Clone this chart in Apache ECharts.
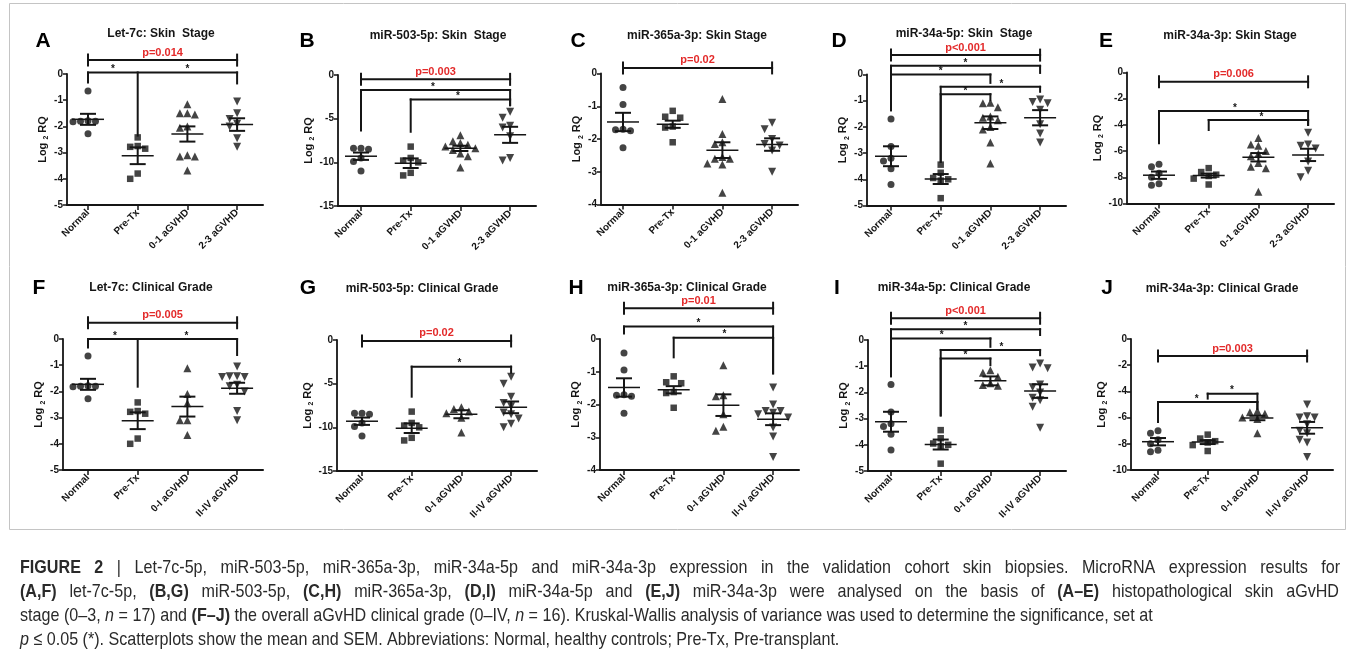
<!DOCTYPE html>
<html>
<head>
<meta charset="utf-8">
<title>Figure 2 - miRNA expression in skin biopsies</title>
<script src="https://cdn.jsdelivr.net/npm/echarts@6/dist/echarts.min.js"></script>
<style>
html, body { margin: 0; padding: 0; background: #fff; }
#chart { width: 1355px; height: 666px; }
</style>
</head>
<body>
<div id="chart"></div>
<script>
// group names on the x axes
const skinGroups = ['Normal', 'Pre-Tx', '0-1 aGVHD', '2-3 aGVHD'];
const gradeGroups = ['Normal', 'Pre-Tx', '0-I aGVHD', 'II-IV aGVHD'];

// y axis [min, max, step] per microRNA
const let7cAxis = [-5, 0, 1];
const miR503Axis = [-15, 0, 5];
const miR365Axis = [-4, 0, 1];
const miR34a5pAxis = [-5, 0, 1];
const miR34a3pAxis = [-10, 0, 2];

// log2 RQ per sample
const let7cNormal = [-0.65, -1.78, -1.8, -1.82, -1.8, -2.28];
const let7cPreTx = [-2.42, -2.75, -2.78, -2.85, -3.8, -4.0];
const let7cSkin01 = [-1.15, -1.5, -1.55, -1.5, -2.0, -2.05, -3.15, -3.1, -3.15, -3.68];
const let7cSkin23 = [-1.05, -1.5, -1.72, -1.9, -2.0, -2.45, -2.78];
const let7cGrade0I = [-1.12, -2.1, -2.45, -3.1, -3.1, -3.66];
const let7cGradeIIIV = [-1.05, -1.42, -1.45, -1.45, -1.42, -1.75, -1.8, -2.0, -2.75, -3.1];

const miR503Normal = [-8.4, -8.5, -8.4, -9.5, -9.9, -11.0];
const miR503PreTx = [-8.2, -9.5, -9.8, -10.0, -11.2, -11.5];
const miR503Skin01 = [-6.9, -7.6, -7.8, -8.0, -8.2, -8.4, -8.6, -9.0, -9.3, -10.6];
const miR503Skin23 = [-4.2, -4.9, -5.8, -6.0, -7.0, -9.5, -9.8];
const miR503Grade0I = [-7.7, -7.9, -8.2, -8.4, -8.9, -10.6];
const miR503GradeIIIV = [-4.2, -5.0, -6.5, -7.2, -7.6, -8.3, -8.5, -9.0, -9.6, -10.0];

const miR365Normal = [-0.43, -0.95, -1.72, -1.75, -1.7, -2.27];
const miR365PreTx = [-1.14, -1.35, -1.32, -1.62, -1.65, -2.1];
const miR365Skin01 = [-0.78, -1.85, -2.1, -2.15, -2.55, -2.6, -2.6, -2.75, -2.78, -3.64];
const miR365Skin23 = [-1.5, -1.7, -2.0, -2.15, -2.2, -2.35, -3.0];
const miR365Grade0I = [-0.8, -1.72, -1.75, -2.3, -2.68, -2.8];
const miR365GradeIIIV = [-1.48, -2.0, -2.2, -2.25, -2.2, -2.3, -2.4, -2.7, -2.98, -3.6];

const miR34a5pNormal = [-1.7, -2.75, -3.3, -3.2, -3.6, -4.2];
const miR34a5pPreTx = [-3.44, -3.75, -3.95, -4.05, -4.0, -4.72];
const miR34a5pSkin01 = [-1.08, -1.25, -1.1, -1.6, -1.65, -1.75, -2.0, -2.1, -2.6, -3.4];
const miR34a5pSkin23 = [-0.95, -1.05, -1.1, -1.35, -1.9, -2.25, -2.6];
const miR34a5pGrade0I = [-1.15, -1.25, -1.4, -1.65, -1.72, -1.75];
const miR34a5pGradeIIIV = [-0.9, -1.05, -1.08, -1.7, -1.8, -2.0, -2.2, -2.3, -2.55, -3.35];

const miR34a3pNormal = [-7.0, -7.2, -7.7, -8.0, -8.5, -8.6];
const miR34a3pPreTx = [-7.3, -7.6, -7.8, -7.9, -8.1, -8.55];
const miR34a3pSkin01 = [-5.0, -5.5, -5.6, -6.0, -6.2, -6.4, -6.9, -7.2, -7.3, -9.1];
const miR34a3pSkin23 = [-4.6, -5.5, -5.6, -5.8, -6.8, -7.5, -8.0];
const miR34a3pGrade0I = [-5.5, -5.6, -5.7, -6.0, -6.1, -7.2];
const miR34a3pGradeIIIV = [-5.0, -5.9, -6.0, -6.0, -6.5, -7.0, -7.2, -7.7, -7.9, -9.0];

// mean and SEM per group, as drawn
const let7cSkinMean = [-1.73, -3.12, -2.29, -1.93];
const let7cSkinSem = [0.21, 0.32, 0.29, 0.24];
const let7cGradeMean = [-1.73, -3.12, -2.58, -1.88];
const let7cGradeSem = [0.21, 0.32, 0.38, 0.21];
const miR503SkinMean = [-9.3, -10.1, -8.4, -6.85];
const miR503SkinSem = [0.42, 0.55, 0.3, 0.92];
const miR503GradeMean = [-9.3, -10.1, -8.5, -7.71];
const miR503GradeSem = [0.42, 0.55, 0.46, 0.67];
const miR365SkinMean = [-1.48, -1.55, -2.34, -2.17];
const miR365SkinSem = [0.28, 0.11, 0.24, 0.19];
const miR365GradeMean = [-1.48, -1.55, -2.02, -2.45];
const miR365GradeSem = [0.28, 0.11, 0.33, 0.18];
const miR34a5pSkinMean = [-3.12, -3.99, -1.84, -1.65];
const miR34a5pSkinSem = [0.38, 0.19, 0.24, 0.29];
const miR34a5pGradeMean = [-3.12, -3.99, -1.56, -1.95];
const miR34a5pGradeSem = [0.38, 0.19, 0.17, 0.26];
const miR34a3pSkinMean = [-7.84, -7.87, -6.47, -6.29];
const miR34a3pSkinSem = [0.28, 0.15, 0.32, 0.47];
const miR34a3pGradeMean = [-7.84, -7.87, -6.03, -6.78];
const miR34a3pGradeSem = [0.28, 0.15, 0.17, 0.45];

// Kruskal-Wallis p value: [label, bar level]
const let7cSkinP = ['p=0.014', 0.53];
const let7cGradeP = ['p=0.005', 0.62];
const miR503SkinP = ['p=0.003', -0.5];
const miR503GradeP = ['p=0.02', -0.11];
const miR365SkinP = ['p=0.02', 0.17];
const miR365GradeP = ['p=0.01', 0.94];
const miR34a5pSkinP = ['p<0.001', 0.74];
const miR34a5pGradeP = ['p<0.001', 0.83];
const miR34a3pSkinP = ['p=0.006', -0.71];
const miR34a3pGradeP = ['p=0.003', -1.3];

// pairwise brackets: [level, [group, drop to], ...]
const let7cSkinLinks = [[0.06, [0, -0.32], [1, -2.35], [3, -0.36]]];
const let7cGradeLinks = [[0, [0, -0.32], [1, -1.82], [3, -0.61]]];
const miR503SkinLinks = [[-1.73, [0, -6.35], [3, -3.46]], [-2.8, [1, -6.5], [3, -3.46]]];
const miR503GradeLinks = [[-3.05, [1, -6.49], [3, -3.74]]];
const miR365SkinLinks = [];
const miR365GradeLinks = [[0.38, [0, 0.17], [3, -1.05]], [0.04, [1, -0.56], [3, -1.05]]];
const miR34a5pSkinLinks = [[0.33, [0, -1.36], [3, 0.06]], [0, [0, -1.36], [2, -0.32]],
  [-0.47, [1, -3.33], [3, -0.66]], [-0.75, [1, -3.33], [2, -0.98]]];
const miR34a5pGradeLinks = [[0.41, [0, -1.38], [3, 0.19]], [0.06, [0, -1.38], [2, -0.26]],
  [-0.38, [1, -2.88], [3, -0.58]], [-0.71, [1, -2.88], [2, -0.96]]];
const miR34a3pSkinLinks = [[-2.94, [0, -5.4], [3, -4.0]], [-3.63, [1, -4.39], [3, -4.0]]];
const miR34a3pGradeLinks = [[-4.81, [0, -6.34], [2, -5.32]], [-4.17, [1, -4.55], [2, -5.32]]];

// significance stars: [x, bracket level]
const let7cSkinStars = [[0.5, 0.06], [2, 0.06]];
const let7cGradeStars = [[0.54, 0], [1.98, 0]];
const miR503SkinStars = [[1.45, -1.73], [1.95, -2.8]];
const miR503GradeStars = [[1.96, -3.05]];
const miR365SkinStars = [];
const miR365GradeStars = [[1.5, 0.38], [2.02, 0.04]];
const miR34a5pSkinStars = [[1.5, 0.33], [1.0, 0], [2.22, -0.47], [1.5, -0.75]];
const miR34a5pGradeStars = [[1.5, 0.41], [1.02, 0.06], [2.22, -0.38], [1.5, -0.71]];
const miR34a3pSkinStars = [[1.53, -2.94], [2.06, -3.63]];
const miR34a3pGradeStars = [[0.78, -4.81], [1.49, -4.17]];

const FONT = "'Liberation Sans', Arial, Helvetica, sans-serif";
const INK = '#151515';
const RED = '#e32a2a';
const CAT_STEP = 49.7;
const RIGHT_PAD = 26;
const PLOT_H = 131;

const panels = [
  {letter: 'A', title: 'Let-7c: Skin  Stage', groups: skinGroups, axis: let7cAxis,
    samples: [let7cNormal, let7cPreTx, let7cSkin01, let7cSkin23], mean: let7cSkinMean, sem: let7cSkinSem,
    p: let7cSkinP, links: let7cSkinLinks, stars: let7cSkinStars,
    left: 67, cat0: 88, top: 74, tx: 161, ty: 34, lx: 43, ly: 41, gap: 17},
  {letter: 'B', title: 'miR-503-5p: Skin  Stage', groups: skinGroups, axis: miR503Axis,
    samples: [miR503Normal, miR503PreTx, miR503Skin01, miR503Skin23], mean: miR503SkinMean, sem: miR503SkinSem,
    p: miR503SkinP, links: miR503SkinLinks, stars: miR503SkinStars,
    left: 338, cat0: 361, top: 75, tx: 438, ty: 36, lx: 307, ly: 41, gap: 22},
  {letter: 'C', title: 'miR-365a-3p: Skin Stage', groups: skinGroups, axis: miR365Axis,
    samples: [miR365Normal, miR365PreTx, miR365Skin01, miR365Skin23], mean: miR365SkinMean, sem: miR365SkinSem,
    p: miR365SkinP, links: miR365SkinLinks, stars: miR365SkinStars,
    left: 601, cat0: 623, top: 73.5, tx: 697, ty: 36, lx: 578, ly: 41, gap: 15},
  {letter: 'D', title: 'miR-34a-5p: Skin  Stage', groups: skinGroups, axis: miR34a5pAxis,
    samples: [miR34a5pNormal, miR34a5pPreTx, miR34a5pSkin01, miR34a5pSkin23], mean: miR34a5pSkinMean, sem: miR34a5pSkinSem,
    p: miR34a5pSkinP, links: miR34a5pSkinLinks, stars: miR34a5pSkinStars,
    left: 867, cat0: 891, top: 74.5, tx: 964, ty: 34, lx: 839, ly: 41, gap: 15},
  {letter: 'E', title: 'miR-34a-3p: Skin Stage', groups: skinGroups, axis: miR34a3pAxis,
    samples: [miR34a3pNormal, miR34a3pPreTx, miR34a3pSkin01, miR34a3pSkin23], mean: miR34a3pSkinMean, sem: miR34a3pSkinSem,
    p: miR34a3pSkinP, links: miR34a3pSkinLinks, stars: miR34a3pSkinStars,
    left: 1127, cat0: 1159, top: 72.5, tx: 1230, ty: 36, lx: 1106, ly: 41, gap: 15},
  {letter: 'F', title: 'Let-7c: Clinical Grade', groups: gradeGroups, axis: let7cAxis,
    samples: [let7cNormal, let7cPreTx, let7cGrade0I, let7cGradeIIIV], mean: let7cGradeMean, sem: let7cGradeSem,
    p: let7cGradeP, links: let7cGradeLinks, stars: let7cGradeStars,
    left: 63, cat0: 88, top: 339, tx: 151, ty: 288, lx: 39, ly: 288, gap: 15},
  {letter: 'G', title: 'miR-503-5p: Clinical Grade', groups: gradeGroups, axis: miR503Axis,
    samples: [miR503Normal, miR503PreTx, miR503Grade0I, miR503GradeIIIV], mean: miR503GradeMean, sem: miR503GradeSem,
    p: miR503GradeP, links: miR503GradeLinks, stars: miR503GradeStars,
    left: 337, cat0: 362, top: 340, tx: 422, ty: 289, lx: 308, ly: 288, gap: 17},
  {letter: 'H', title: 'miR-365a-3p: Clinical Grade', groups: gradeGroups, axis: miR365Axis,
    samples: [miR365Normal, miR365PreTx, miR365Grade0I, miR365GradeIIIV], mean: miR365GradeMean, sem: miR365GradeSem,
    p: miR365GradeP, links: miR365GradeLinks, stars: miR365GradeStars,
    left: 600, cat0: 624, top: 339, tx: 687, ty: 288, lx: 576, ly: 288, gap: 13},
  {letter: 'I', title: 'miR-34a-5p: Clinical Grade', groups: gradeGroups, axis: miR34a5pAxis,
    samples: [miR34a5pNormal, miR34a5pPreTx, miR34a5pGrade0I, miR34a5pGradeIIIV], mean: miR34a5pGradeMean, sem: miR34a5pGradeSem,
    p: miR34a5pGradeP, links: miR34a5pGradeLinks, stars: miR34a5pGradeStars,
    left: 868, cat0: 891, top: 340, tx: 954, ty: 288, lx: 837, ly: 288, gap: 14},
  {letter: 'J', title: 'miR-34a-3p: Clinical Grade', groups: gradeGroups, axis: miR34a3pAxis,
    samples: [miR34a3pNormal, miR34a3pPreTx, miR34a3pGrade0I, miR34a3pGradeIIIV], mean: miR34a3pGradeMean, sem: miR34a3pGradeSem,
    p: miR34a3pGradeP, links: miR34a3pGradeLinks, stars: miR34a3pGradeStars,
    left: 1131, cat0: 1158, top: 339, tx: 1222, ty: 289, lx: 1107, ly: 288, gap: 15}
];

const symbols = ['circle', 'rect', 'triangle', 'triangle'];
const symbolSizes = [7, 6.5, 8, 8];
const symbolRotates = [0, 0, 0, 180];

// spread points with close values sideways, like a column scatter
function swarm(values, gi, pxPerY) {
  const step = 7.5;
  const placed = [];
  const order = values.map((v, i) => i).sort((a, b) => values[b] - values[a]);
  const out = [];
  order.forEach(i => {
    const py = values[i] * pxPerY;
    for (let k = 0; k < 20; k++) {
      const off = k === 0 ? 0 : (k % 2 ? -1 : 1) * Math.ceil(k / 2) * step;
      const hit = placed.some(p => (p[0] - off) ** 2 + (p[1] - py) ** 2 < (step - 0.5) ** 2);
      if (!hit) {
        placed.push([off, py]);
        out.push([gi + off / CAT_STEP, values[i]]);
        break;
      }
    }
  });
  return out;
}

function meanSemItem(params, api) {
  const x = api.value(0), m = api.value(1), s = api.value(2);
  const c = api.coord([x, m]), t = api.coord([x, m + s]), b = api.coord([x, m - s]);
  const st = w => ({stroke: INK, lineWidth: w});
  return {type: 'group', children: [
    {type: 'line', shape: {x1: c[0] - 16, y1: c[1], x2: c[0] + 16, y2: c[1]}, style: st(1.5)},
    {type: 'line', shape: {x1: t[0], y1: t[1], x2: b[0], y2: b[1]}, style: st(2)},
    {type: 'line', shape: {x1: t[0] - 8, y1: t[1], x2: t[0] + 8, y2: t[1]}, style: st(2)},
    {type: 'line', shape: {x1: b[0] - 8, y1: b[1], x2: b[0] + 8, y2: b[1]}, style: st(2)}
  ]};
}

function annotate(panel) {
  return function (params, api) {
    const kids = [];
    const seg = (a, b) => kids.push({type: 'line', shape: {x1: a[0], y1: a[1], x2: b[0], y2: b[1]},
      style: {stroke: INK, lineWidth: 2, lineCap: 'square'}});
    const l = api.coord([0, panel.p[1]]), r = api.coord([3, panel.p[1]]);
    seg(l, r);
    seg([l[0], l[1] - 5.5], [l[0], l[1] + 5.5]);
    seg([r[0], r[1] - 5.5], [r[0], r[1] + 5.5]);
    kids.push({type: 'text', x: (l[0] + r[0]) / 2, y: l[1] - 2,
      style: {text: panel.p[0], fill: RED, font: 'bold 11px ' + FONT, align: 'center', verticalAlign: 'bottom'}});
    panel.links.forEach(link => {
      const y = link[0], ends = link.slice(1), xs = ends.map(e => e[0]);
      seg(api.coord([Math.min(...xs), y]), api.coord([Math.max(...xs), y]));
      ends.forEach(e => seg(api.coord([e[0], y]), api.coord([e[0], e[1]])));
    });
    panel.stars.forEach(s => {
      const p = api.coord(s);
      kids.push({type: 'text', x: p[0], y: p[1] - 3,
        style: {text: '*', fill: INK, font: 'bold 10px ' + FONT, align: 'center', verticalAlign: 'middle'}});
    });
    return {type: 'group', children: kids};
  };
}

const grids = [], xAxes = [], yAxes = [], series = [], graphics = [];

panels.forEach((p, i) => {
  const [ymin, ymax, ystep] = p.axis;
  const xmin = -(p.cat0 - p.left) / CAT_STEP;
  const xmax = 3 + RIGHT_PAD / CAT_STEP;
  grids.push({left: p.left, top: p.top, width: (xmax - xmin) * CAT_STEP, height: PLOT_H});
  xAxes.push({
    gridIndex: i, type: 'value', min: xmin, max: xmax,
    axisLine: {onZero: false, lineStyle: {color: INK, width: 1.8}},
    splitLine: {show: false},
    axisTick: {customValues: [0, 1, 2, 3], length: 5, lineStyle: {color: INK, width: 1.5}},
    axisLabel: {customValues: [0, 1, 2, 3], formatter: v => p.groups[Math.round(v)] || '',
      rotate: 45, margin: 6, color: INK, fontSize: 10, fontWeight: 'bold', fontFamily: FONT}
  });
  yAxes.push({
    gridIndex: i, type: 'value', min: ymin, max: ymax, interval: ystep,
    axisLine: {show: true, onZero: false, lineStyle: {color: INK, width: 1.8}},
    axisTick: {show: true, length: 4, lineStyle: {color: INK, width: 1.5}},
    splitLine: {show: false},
    axisLabel: {margin: 4, color: INK, fontSize: 10, fontWeight: 'bold', fontFamily: FONT},
    name: '{b|Log }{s|2}{b| RQ}', nameLocation: 'middle', nameGap: p.gap,
    nameTextStyle: {color: INK, rich: {
      b: {fontSize: 11, fontWeight: 'bold', fontFamily: FONT, color: INK, lineHeight: 14},
      s: {fontSize: 7, fontWeight: 'bold', fontFamily: FONT, color: INK, verticalAlign: 'bottom', lineHeight: 14}
    }}
  });
  const pxPerY = PLOT_H / (ymax - ymin);
  p.samples.forEach((vals, gi) => {
    series.push({
      type: 'scatter', xAxisIndex: i, yAxisIndex: i,
      symbol: symbols[gi], symbolSize: symbolSizes[gi], symbolRotate: symbolRotates[gi],
      itemStyle: {color: INK}, clip: false,
      data: swarm(vals, gi, pxPerY)
    });
  });
  series.push({
    type: 'custom', xAxisIndex: i, yAxisIndex: i, clip: false, z: 3,
    renderItem: meanSemItem,
    data: p.mean.map((m, gi) => [gi, m, p.sem[gi]])
  });
  series.push({
    type: 'custom', xAxisIndex: i, yAxisIndex: i, clip: false, z: 3,
    renderItem: annotate(p), data: [[0, ymax]]
  });
  graphics.push({type: 'text', x: p.tx, y: p.ty,
    style: {text: p.title, fill: INK, font: 'bold 12px ' + FONT, align: 'center', verticalAlign: 'middle'}});
  graphics.push({type: 'text', x: p.lx, y: p.ly,
    style: {text: p.letter, fill: '#000', font: 'bold 21px ' + FONT, align: 'center', verticalAlign: 'middle'}});
});

// figure caption: condensed text, first two lines justified
const CAP_FONT = "'Liberation Sans Narrow', 'Liberation Sans', Arial, sans-serif";
const CAP_SIZE = 19;
const CAP_INK = '#2a2a2a';
const captionLines = [
  [['b', 'FIGURE 2'], ['n', ' | Let-7c-5p, miR-503-5p, miR-365a-3p, miR-34a-5p and miR-34a-3p expression in the validation cohort skin biopsies. MicroRNA expression results for']],
  [['b', '(A,F)'], ['n', ' let-7c-5p, '], ['b', '(B,G)'], ['n', ' miR-503-5p, '], ['b', '(C,H)'], ['n', ' miR-365a-3p, '],
    ['b', '(D,I)'], ['n', ' miR-34a-5p and '], ['b', '(E,J)'], ['n', ' miR-34a-3p were analysed on the basis of '],
    ['b', '(A\u2013E)'], ['n', ' histopathological skin aGvHD']],
  [['n', 'stage (0\u20133, '], ['i', 'n'], ['n', ' = 17) and '], ['b', '(F\u2013J)'], ['n', ' the overall aGvHD clinical grade (0\u2013IV, '],
    ['i', 'n'], ['n', ' = 16). Kruskal-Wallis analysis of variance was used to determine the significance, set at']],
  [['i', 'p'], ['n', ' \u2264 0.05 (*). Scatterplots show the mean and SEM. Abbreviations: Normal, healthy controls; Pre-Tx, Pre-transplant.']]
];
const justifyWidths = [1320, 1319, null, null];
const capStyle = {
  n: {fontSize: CAP_SIZE, fontFamily: CAP_FONT, fill: CAP_INK},
  b: {fontSize: CAP_SIZE, fontFamily: CAP_FONT, fontWeight: 'bold', fill: CAP_INK},
  i: {fontSize: CAP_SIZE, fontFamily: CAP_FONT, fontStyle: 'italic', fill: CAP_INK}
};
const mctx = document.createElement('canvas').getContext('2d');
function textWidth(kind, text) {
  mctx.font = (kind === 'b' ? 'bold ' : '') + (kind === 'i' ? 'italic ' : '') + CAP_SIZE + 'px ' + CAP_FONT;
  return mctx.measureText(text).width;
}
function lineWidth(line) {
  return line.reduce((s, sg) => s + textWidth(sg[0], sg[1]), 0);
}
// squeeze so the two short lines end where they do in the figure (x 1133 and 859)
const capScale = (1113 + 839) / (lineWidth(captionLines[2]) + lineWidth(captionLines[3]));
captionLines.forEach((line, k) => {
  const y = 568 + k * 24;
  if (justifyWidths[k]) {
    const words = [];
    line.forEach(sg => sg[1].split(' ').forEach(w => { if (w) words.push([sg[0], w]); }));
    const ws = words.map(w => textWidth(w[0], w[1]) * capScale);
    const gap = (justifyWidths[k] - ws.reduce((a, b) => a + b, 0)) / (words.length - 1);
    let x = 20;
    words.forEach((w, j) => {
      graphics.push({type: 'text', x: x, y: y, scaleX: capScale,
        style: {text: w[1], fill: CAP_INK, fontSize: CAP_SIZE, fontFamily: CAP_FONT,
          fontWeight: w[0] === 'b' ? 'bold' : 'normal', fontStyle: w[0] === 'i' ? 'italic' : 'normal',
          align: 'left', verticalAlign: 'middle'}});
      x += ws[j] + gap;
    });
  } else {
    graphics.push({type: 'text', x: 20, y: y, scaleX: capScale,
      style: {text: line.map(sg => '{' + sg[0] + '|' + sg[1] + '}').join(''), rich: capStyle,
        fill: CAP_INK, align: 'left', verticalAlign: 'middle'}});
  }
});

// thin frame round the panels
graphics.push({type: 'rect', z: -10, shape: {x: 9.5, y: 3.5, width: 1336, height: 526},
  style: {fill: 'none', stroke: '#c4c4c4', lineWidth: 1}});

const chart = echarts.init(document.getElementById('chart'));
chart.setOption({
  animation: false,
  backgroundColor: '#fff',
  grid: grids,
  xAxis: xAxes,
  yAxis: yAxes,
  graphic: graphics,
  series: series
});
</script>
</body>
</html>
